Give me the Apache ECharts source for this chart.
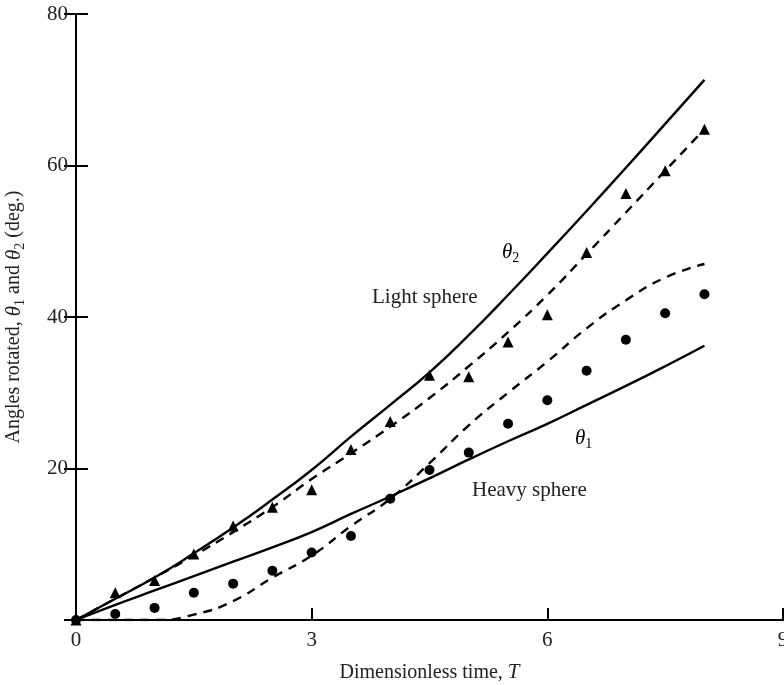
<!DOCTYPE html>
<html>
<head>
<meta charset="utf-8">
<script src="https://cdn.jsdelivr.net/npm/echarts@6/dist/echarts.min.js"></script>
<style>
  html, body { margin: 0; padding: 0; background: #fff; }
  #chart { width: 784px; height: 685px; }
</style>
</head>
<body>
<div id="chart"></div>
<script>
// dimensionless time T
var times = [0, 0.5, 1, 1.5, 2, 2.5, 3, 3.5, 4, 4.5, 5, 5.5, 6, 6.5, 7, 7.5, 8];
// experiments (markers)
var lightPts = [0, 3.6, 5.2, 8.7, 12.4, 14.9, 17.2, 22.5, 26.2, 32.3, 32.1, 36.7, 40.3, 48.5, 56.3, 59.3, 64.8];
var heavyPts = [0, 0.8, 1.6, 3.6, 4.8, 6.5, 8.9, 11.1, 16.0, 19.8, 22.1, 25.9, 29.0, 32.9, 37.0, 40.5, 43.0];
// theory, solid lines
var theta2Solid = [0, 2.8, 5.6, 8.8, 12.2, 15.9, 19.8, 24.2, 28.4, 32.7, 37.6, 42.9, 48.4, 54.0, 59.7, 65.5, 71.3];
var theta1Solid = [0, 2.0, 3.9, 5.8, 7.7, 9.6, 11.6, 14.0, 16.3, 18.7, 21.2, 23.6, 25.9, 28.4, 30.9, 33.5, 36.2];
// simulation, dashed lines
var theta2Dash = [0, 2.8, 5.6, 8.5, 11.6, 14.9, 18.6, 22.0, 25.5, 29.3, 33.5, 38.0, 42.9, 48.3, 53.8, 59.3, 64.8];
var theta1Dash = [0, 0, 0, 0.7, 2.5, 5.6, 8.5, 12.4, 16.0, 20.7, 25.7, 30.0, 34.1, 38.5, 42.2, 45.2, 47.0];

var xTicks = [0, 3, 6, 9];
var yTicks = [20, 40, 60, 80];

function pairs(ys) {
  return times.map(function (t, i) { return [t, ys[i]]; });
}

var chart = echarts.init(document.getElementById('chart'));
var serif = 'Liberation Serif';
var ink = '#222';
var sub = {
  i: { fontFamily: serif, fontStyle: 'italic', fontSize: 21, color: ink },
  s: { fontFamily: serif, fontSize: 14, color: ink, padding: [12, 0, 0, 0] },
  n: { fontFamily: serif, fontSize: 20, color: ink }
};

var axisBase = {
  type: 'value',
  axisLine: { lineStyle: { color: '#000', width: 2 } },
  axisTick: { inside: true, length: 12, lineStyle: { color: '#000', width: 2 } },
  splitLine: { show: false }
};

var option = {
  backgroundColor: '#fff',
  animation: false,
  grid: { left: 76, right: 1, top: 14, bottom: 65, outerBoundsMode: 'none', containLabel: false },
  xAxis: [
    Object.assign({}, axisBase, {
      min: 0, max: 9, interval: 3,
      name: '{n|Dimensionless time, }{i|T}',
      nameLocation: 'middle',
      nameGap: 42,
      nameTextStyle: { rich: sub },
      axisLabel: {
        fontFamily: serif, fontSize: 21, color: ink, margin: 10,
        formatter: function (v) { return xTicks.indexOf(v) >= 0 ? String(v) : ''; }
      }
    }),
    Object.assign({}, axisBase, {
      position: 'top', min: 0, max: 9, interval: 3,
      axisTick: { show: false }, axisLabel: { show: false }
    })
  ],
  yAxis: [
    Object.assign({}, axisBase, {
      min: 0, max: 80, interval: 20,
      name: '{n|Angles rotated, }{i|θ}{s|1}{n| and }{i|θ}{s|2}{n| (deg.)}',
      nameLocation: 'middle',
      nameGap: 49,
      nameRotate: 90,
      nameTextStyle: { rich: sub },
      axisLabel: {
        fontFamily: serif, fontSize: 21, color: ink, margin: 8,
        formatter: function (v) { return yTicks.indexOf(v) >= 0 ? String(v) : ''; }
      }
    }),
    Object.assign({}, axisBase, {
      position: 'right', min: 0, max: 80, interval: 20,
      axisLabel: { show: false }
    })
  ],
  series: [
    {
      type: 'line', data: pairs(theta2Solid), showSymbol: false, smooth: true,
      lineStyle: { color: '#000', width: 2.4 }
    },
    {
      type: 'line', data: pairs(theta1Solid), showSymbol: false, smooth: true,
      lineStyle: { color: '#000', width: 2.4 }
    },
    {
      type: 'line', data: pairs(theta2Dash), showSymbol: false, smooth: true,
      lineStyle: { color: '#000', width: 2.4, type: [9, 7] }
    },
    {
      type: 'line', data: pairs(theta1Dash), showSymbol: false, smooth: true,
      lineStyle: { color: '#000', width: 2.4, type: [9, 7] }
    },
    {
      type: 'scatter', data: pairs(lightPts), symbol: 'triangle', symbolSize: 11,
      itemStyle: { color: '#000', opacity: 1 }
    },
    {
      type: 'scatter', data: pairs(heavyPts), symbol: 'circle', symbolSize: 10,
      itemStyle: { color: '#000', opacity: 1 }
    }
  ],
  graphic: [
    { type: 'text', left: 502, top: 242, style: { text: '{i|θ}{s|2}', rich: sub } },
    { type: 'text', left: 372, top: 287, style: { text: 'Light sphere', fontFamily: serif, fontSize: 21, fill: ink } },
    { type: 'text', left: 575, top: 428, style: { text: '{i|θ}{s|1}', rich: sub } },
    { type: 'text', left: 472, top: 480, style: { text: 'Heavy sphere', fontFamily: serif, fontSize: 21, fill: ink } }
  ]
};

chart.setOption(option);
</script>
</body>
</html>
